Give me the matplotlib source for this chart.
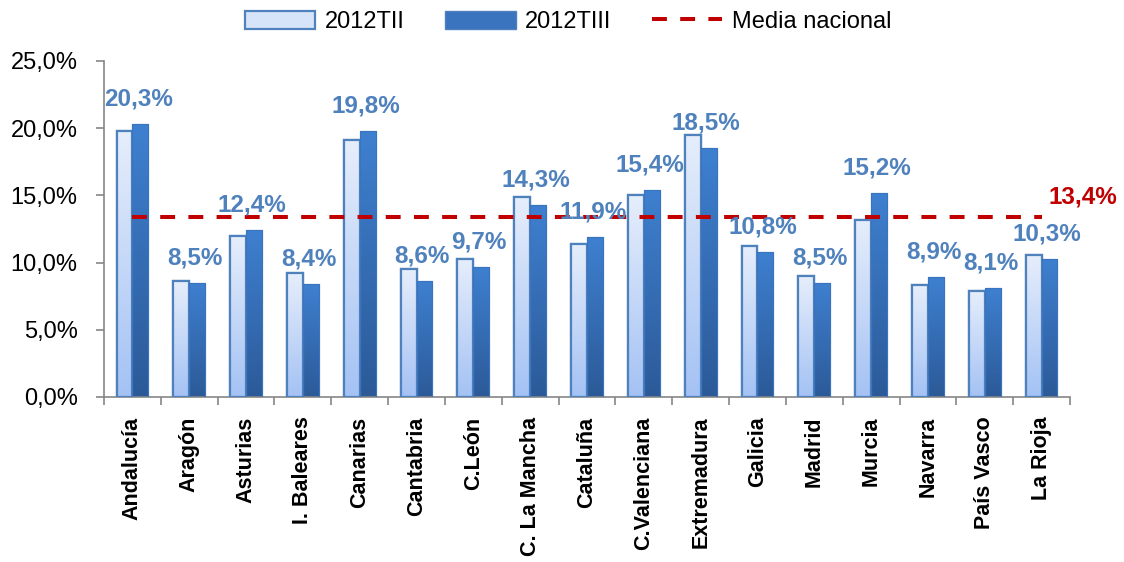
import matplotlib
matplotlib.use("Agg")
import matplotlib.pyplot as plt
import numpy as np
from matplotlib.patches import Patch
from matplotlib.lines import Line2D
from matplotlib.colors import LinearSegmentedColormap

plt.rcParams['font.family'] = ['Liberation Sans', 'DejaVu Sans']

categories = ["Andalucía", "Aragón", "Asturias", "I. Baleares", "Canarias", "Cantabria",
              "C.León", "C. La Mancha", "Cataluña", "C.Valenciana", "Extremadura",
              "Galicia", "Madrid", "Murcia", "Navarra", "País Vasco", "La Rioja"]
t2 = [19.8, 8.6, 12.0, 9.2, 19.1, 9.5, 10.3, 14.9, 11.4, 15.0, 19.5, 11.2, 9.0, 13.2, 8.3, 7.9, 10.6]
t3 = [20.3, 8.5, 12.4, 8.4, 19.8, 8.6, 9.7, 14.3, 11.9, 15.4, 18.5, 10.8, 8.5, 15.2, 8.9, 8.1, 10.3]
media = 13.4
yticks = [0, 5, 10, 15, 20, 25]

fig = plt.figure(figsize=(11.24, 5.62), dpi=100)
ax = fig.add_axes([104/1124, 1-397/562, (1070-104)/1124, (397-61)/562])

x = np.arange(len(categories))
w = 0.28
cmap2 = LinearSegmentedColormap.from_list("l", ["#A4C2F4", "#E6EEFB"])
cmap3 = LinearSegmentedColormap.from_list("d", ["#2C5A98", "#3E80D0"])
grad = np.linspace(0, 1, 256).reshape(-1, 1)

bars2 = ax.bar(x - w/2, t2, w, facecolor="#C9DBF7", edgecolor="#4F81BD", linewidth=1.6, zorder=2)
bars3 = ax.bar(x + w/2, t3, w, facecolor="#3A73BE", edgecolor="#3A73BE", linewidth=0.8, zorder=2)
for bars, cm in ((bars2, cmap2), (bars3, cmap3)):
    for b in bars:
        x0, y0 = b.get_x(), b.get_y()
        im = ax.imshow(grad, extent=(x0, x0 + b.get_width(), y0, y0 + b.get_height()),
                       origin="lower", cmap=cm, aspect="auto", zorder=2.5, interpolation="bicubic")
        im.set_clip_path(b)
        edge = plt.Rectangle((x0, y0), b.get_width(), b.get_height(), fill=False,
                             edgecolor=b.get_edgecolor(), linewidth=b.get_linewidth(), zorder=3)
        ax.add_patch(edge)

ax.plot([x[0], x[-1]], [media, media], color="#C00000", linewidth=2.9,
        dashes=(3.7, 3.3), dash_capstyle="butt", zorder=4)

for xi, v in zip(x, t3):
    ax.annotate(f"{v:.1f}%".replace(".", ","), (xi + 0.1, v), xytext=(0, 18),
                textcoords="offset points", ha="center", va="center",
                fontsize=17.5, fontweight="bold", color="#4F81BD", zorder=5)
ax.annotate(f"{media:.1f}%".replace(".", ","), (x[-1] + 0.72, media), xytext=(0, 14),
            textcoords="offset points", ha="center", va="center", annotation_clip=False,
            fontsize=17.5, fontweight="bold", color="#C00000", zorder=5)

ax.set_xlim(-0.5, len(categories) - 0.5)
ax.set_ylim(0, 25)
ax.set_yticks(yticks)
ax.set_yticklabels([f"{t:.1f}%".replace(".", ",") for t in yticks], fontsize=17)
ax.set_xticks(np.arange(-0.5, len(categories)), minor=False)
ax.set_xticklabels([])
ax.set_xticks(x, minor=True)
ax.set_xticklabels(categories, minor=True, rotation=90, fontsize=15.5, fontweight="bold", va="top")
ax.tick_params(axis="x", which="minor", length=0, pad=14)
ax.tick_params(axis="x", which="major", length=6, color="#868686", width=1.2)
ax.tick_params(axis="y", length=6, color="#868686", width=1.2, pad=13)
for s in ("top", "right"):
    ax.spines[s].set_visible(False)
for s in ("left", "bottom"):
    ax.spines[s].set_color("#868686")
    ax.spines[s].set_linewidth(1.2)

handles = [Patch(facecolor="#D6E4F9", edgecolor="#4F81BD", linewidth=1.6),
           Patch(facecolor="#3A73BE", edgecolor="#4F81BD", linewidth=1.0),
           Line2D([0], [0], color="#C00000", linewidth=2.9, dashes=(3.7, 3.3))]
leg = fig.legend(handles, ["2012TII", "2012TIII", "Media nacional"], loc="center",
                 bbox_to_anchor=(568/1124, 1-22/562), ncol=3, frameon=False, fontsize=17,
                 handlelength=3.0, handleheight=0.8, handletextpad=0.4, columnspacing=1.7)

fig.savefig("out.png", dpi=100)
